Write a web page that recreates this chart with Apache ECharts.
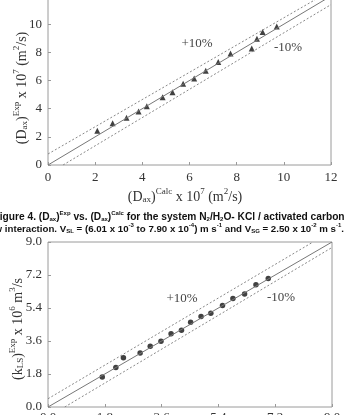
<!DOCTYPE html>
<html>
<head>
<meta charset="utf-8">
<script src="https://cdn.jsdelivr.net/npm/echarts@6/dist/echarts.min.js"></script>
<style>
  html, body { margin: 0; padding: 0; background: #fff; }
  #main { width: 347px; height: 415px; }
</style>
</head>
<body>
<div id="main"></div>
<script>
// top plot: axial dispersion (triangles)
var daxCalc = [2.09, 2.74, 3.33, 3.84, 4.19, 4.86, 5.28, 5.73, 6.20, 6.69, 7.22, 7.74, 8.64, 8.86, 9.10, 9.70];
var daxExp  = [2.44, 2.97, 3.35, 3.80, 4.17, 4.81, 5.17, 5.77, 6.14, 6.69, 7.31, 7.92, 8.28, 8.97, 9.44, 9.84];
var daxParity = [[0, 0], [12, 12]];
var daxPlus   = [[0, 0.78], [11.6, 12]];
var daxMinus  = [[0.64, 0], [12, 11.39]];

// bottom plot: kLS (dots)
var klsCalc = [1.72, 2.15, 2.39, 2.92, 3.24, 3.58, 3.90, 4.23, 4.52, 4.85, 5.16, 5.53, 5.86, 6.23, 6.59, 6.98];
var klsExp  = [1.64, 2.15, 2.69, 2.94, 3.31, 3.58, 3.99, 4.19, 4.62, 4.93, 5.11, 5.53, 5.92, 6.16, 6.67, 7.01];
var klsParity = [[0, 0], [9, 9]];
var klsPlus   = [[0, 0.45], [8.4, 9]];
var klsMinus  = [[0.53, 0], [9, 8.7]];

var chart = echarts.init(document.getElementById('main'));

var serif = 'Liberation Serif';
var frameColor = '#9a9a9a';

// turn [[text, style], ...] into a rich text string
function rich(parts) {
  return parts.map(function (p) {
    return p[1] ? '{' + p[1] + '|' + p[0] + '}' : '{n|' + p[0] + '}';
  }).join('');
}

function titleStyles(size) {
  var lh = size + 3;
  return {
    n: { fontFamily: serif, fontSize: size, lineHeight: lh, verticalAlign: 'bottom', fill: '#333' },
    sub: { fontFamily: serif, fontSize: size - 5, lineHeight: lh, verticalAlign: 'bottom', fill: '#333' },
    sup: { fontFamily: serif, fontSize: size - 5, lineHeight: lh, verticalAlign: 'top', fill: '#333' }
  };
}

function capStyles(size) {
  var f = 'Liberation Sans';
  return {
    n: { fontFamily: f, fontWeight: 'bold', fontSize: size, lineHeight: 12, verticalAlign: 'bottom', fill: '#111' },
    sub: { fontFamily: f, fontWeight: 'bold', fontSize: 6, lineHeight: 12, verticalAlign: 'bottom', fill: '#111' },
    sup: { fontFamily: f, fontWeight: 'bold', fontSize: 6, lineHeight: 12, verticalAlign: 'top', fill: '#111' }
  };
}

function axisCommon(min, max, interval, fmt, margin) {
  return {
    type: 'value', min: min, max: max, interval: interval,
    splitLine: { show: false },
    axisLine: { show: false },
    axisTick: { show: true, inside: true, length: 3, lineStyle: { color: frameColor } },
    axisLabel: { fontFamily: serif, fontSize: 13, color: '#333', margin: margin || 6, formatter: fmt }
  };
}

function refLine(data, dashed, xi) {
  return {
    type: 'line', data: data, xAxisIndex: xi, yAxisIndex: xi,
    symbol: 'none', silent: true,
    lineStyle: { color: dashed ? '#888' : '#777', width: 1, type: dashed ? [2, 2] : 'solid' }
  };
}

function pairs(xs, ys) {
  return xs.map(function (x, i) { return [x, ys[i]]; });
}

var fmt1 = function (v) { return v.toFixed(1); };
var fmt0 = function (v) { return v === 12 ? '' : String(v); };

var option = {
  animation: false,
  grid: [
    { left: 48, right: 16, top: -4, height: 169, show: true, borderColor: frameColor, borderWidth: 1, outerBoundsMode: 'none', containLabel: false },
    { left: 48, right: 15, top: 242, height: 165, show: true, borderColor: frameColor, borderWidth: 1, outerBoundsMode: 'none', containLabel: false }
  ],
  xAxis: [
    Object.assign(axisCommon(0, 12, 2, function (v) { return String(v); }), { gridIndex: 0 }),
    Object.assign(axisCommon(0, 9, 1.8, fmt1, 4), { gridIndex: 1 })
  ],
  yAxis: [
    Object.assign(axisCommon(0, 12, 2, fmt0), { gridIndex: 0 }),
    Object.assign(axisCommon(0, 9, 1.8, fmt1), { gridIndex: 1 })
  ],
  series: [
    refLine(daxParity, false, 0),
    refLine(daxPlus, true, 0),
    refLine(daxMinus, true, 0),
    {
      type: 'scatter', xAxisIndex: 0, yAxisIndex: 0,
      data: pairs(daxCalc, daxExp),
      symbol: 'triangle', symbolSize: 6,
      itemStyle: { color: '#111' }
    },
    refLine(klsParity, false, 1),
    refLine(klsPlus, true, 1),
    refLine(klsMinus, true, 1),
    {
      type: 'scatter', xAxisIndex: 1, yAxisIndex: 1,
      data: pairs(klsCalc, klsExp),
      symbol: 'circle', symbolSize: 5.5,
      itemStyle: { color: '#111' }
    }
  ],
  graphic: [
    // top plot labels
    { type: 'text', x: 197, y: 44, style: { text: '+10%', font: '13px ' + serif, fill: '#444', align: 'center', verticalAlign: 'middle' } },
    { type: 'text', x: 288, y: 48, style: { text: '-10%', font: '13px ' + serif, fill: '#444', align: 'center', verticalAlign: 'middle' } },
    {
      type: 'text', x: 185, y: 196,
      style: {
        text: rich([['(D'], ['ax', 'sub'], [')'], ['Calc', 'sup'], [' x 10'], ['7', 'sup'], [' (m'], ['2', 'sup'], ['/s)']]),
        rich: titleStyles(14), align: 'center', verticalAlign: 'middle'
      }
    },
    {
      type: 'text', x: 21, y: 88, rotation: Math.PI / 2,
      style: {
        text: rich([['(D'], ['ax', 'sub'], [')'], ['Exp', 'sup'], [' x 10'], ['7', 'sup'], [' (m'], ['2', 'sup'], ['/s)']]),
        rich: titleStyles(14), align: 'center', verticalAlign: 'middle'
      }
    },
    // caption between the plots
    {
      type: 'text', x: -6.5, y: 216,
      style: {
        text: rich([['Figure 4. (D'], ['ax', 'sub'], [')'], ['Exp', 'sup'], [' vs. (D'], ['ax', 'sub'], [')'], ['Calc', 'sup'],
          [' for the system N'], ['2', 'sub'], ['/H'], ['2', 'sub'], ['O- KCl / activated carbon in']]),
        rich: capStyles(10.2), align: 'left', verticalAlign: 'middle'
      }
    },
    {
      type: 'text', x: 344, y: 228,
      style: {
        text: rich([['flow interaction. V'], ['SL', 'sub'], [' = (6.01 x 10'], ['-3', 'sup'], [' to 7.90 x 10'], ['-4', 'sup'],
          [') m s'], ['-1', 'sup'], [' and V'], ['SG', 'sub'], [' = 2.50 x 10'], ['-2', 'sup'], [' m s'], ['-1', 'sup'], ['.']]),
        rich: capStyles(9.7), align: 'right', verticalAlign: 'middle'
      }
    },
    // bottom plot labels
    { type: 'text', x: 182, y: 299, style: { text: '+10%', font: '13px ' + serif, fill: '#444', align: 'center', verticalAlign: 'middle' } },
    { type: 'text', x: 281, y: 298, style: { text: '-10%', font: '13px ' + serif, fill: '#444', align: 'center', verticalAlign: 'middle' } },
    {
      type: 'text', x: 17, y: 329, rotation: Math.PI / 2,
      style: {
        text: rich([['(k'], ['LS', 'sub'], [')'], ['Exp', 'sup'], [' x 10'], ['6', 'sup'], [' m'], ['3', 'sup'], ['/s']]),
        rich: titleStyles(14), align: 'center', verticalAlign: 'middle'
      }
    }
  ]
};

chart.setOption(option);
</script>
</body>
</html>
